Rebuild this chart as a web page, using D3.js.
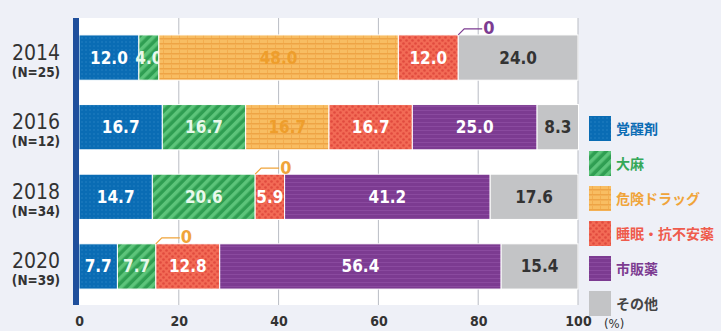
<!DOCTYPE html>
<html>
<head>
<meta charset="utf-8">
<script src="https://cdn.jsdelivr.net/npm/d3@7"></script>
<style>
  html, body { margin: 0; padding: 0; background: #eef0f7; }
  svg { display: block; }
</style>
</head>
<body>
<svg width="721" height="331"></svg>
<script>
// データ
const years = ["2014", "2016", "2018", "2020"];
const counts = ["(N=25)", "(N=12)", "(N=34)", "(N=39)"];
const seriesNames = ["覚醒剤", "大麻", "危険ドラッグ", "睡眠・抗不安薬", "市販薬", "その他"];
const stimulant = [12.0, 16.7, 14.7, 7.7];
const cannabis = [4.0, 16.7, 20.6, 7.7];
const dangerDrug = [48.0, 16.7, 0, 0];
const sleeping = [12.0, 16.7, 5.9, 12.8];
const otc = [0, 25.0, 41.2, 56.4];
const others = [24.0, 8.3, 17.6, 15.4];
const xTicks = [0, 20, 40, 60, 80, 100];

const colors = ["#0a6cb4", "#35a85a", "#f6b352", "#ef5b4c", "#7c3b91", "#c3c4c6"];
const textColors = ["#0a6cb4", "#35a85a", "#f0a43a", "#ef5b4c", "#7c3b91", "#444"];
const labelColors = ["#fff", "#e8f8ec", "#ee9e2c", "#fff", "#fff", "#333"];

const table = years.map((y, i) => ({
  year: y, n: counts[i],
  values: [stimulant[i], cannabis[i], dangerDrug[i], sleeping[i], otc[i], others[i]]
}));

const svg = d3.select("svg");
const margin = { left: 79, right: 143, top: 18, bottom: 26 };
const W = 721, H = 331;
const numFont = "'DejaVu Sans Condensed', 'Roboto', sans-serif";

const x = d3.scaleLinear().domain([0, 100]).range([margin.left, W - margin.right]);
const y = d3.scaleBand().domain(years).range([margin.top + 3, H - margin.bottom - 2]).paddingInner(0.35).paddingOuter(0.2);

// パターン
const defs = svg.append("defs");
const pBlue = defs.append("pattern").attr("id", "p0").attr("patternUnits", "userSpaceOnUse").attr("width", 4).attr("height", 4);
pBlue.append("rect").attr("width", 4).attr("height", 4).attr("fill", colors[0]);
pBlue.append("circle").attr("cx", 2).attr("cy", 2).attr("r", 0.7).attr("fill", "#2a84c6");

const pGreen = defs.append("pattern").attr("id", "p1").attr("patternUnits", "userSpaceOnUse").attr("width", 7).attr("height", 7).attr("patternTransform", "rotate(45)");
pGreen.append("rect").attr("width", 7).attr("height", 7).attr("fill", "#2f9e52");
pGreen.append("rect").attr("width", 3.5).attr("height", 7).attr("fill", "#5cc47a");

const pOrange = defs.append("pattern").attr("id", "p2").attr("patternUnits", "userSpaceOnUse").attr("width", 8).attr("height", 5);
pOrange.append("rect").attr("width", 8).attr("height", 5).attr("fill", "#f8bd62");
pOrange.append("rect").attr("y", 3).attr("width", 8).attr("height", 1.5).attr("fill", "#eea445");
pOrange.append("rect").attr("x", 3).attr("width", 1).attr("height", 3).attr("fill", "#f3ad4f");

const pRed = defs.append("pattern").attr("id", "p3").attr("patternUnits", "userSpaceOnUse").attr("width", 6).attr("height", 6);
pRed.append("rect").attr("width", 6).attr("height", 6).attr("fill", "#f26a55");
pRed.append("circle").attr("cx", 1.5).attr("cy", 1.5).attr("r", 1.3).attr("fill", "#e14a3e");
pRed.append("circle").attr("cx", 4.5).attr("cy", 4.5).attr("r", 1.3).attr("fill", "#e14a3e");

const pPurple = defs.append("pattern").attr("id", "p4").attr("patternUnits", "userSpaceOnUse").attr("width", 6).attr("height", 4);
pPurple.append("rect").attr("width", 6).attr("height", 4).attr("fill", "#7c3b91");
pPurple.append("rect").attr("y", 2).attr("width", 6).attr("height", 1).attr("fill", "#8a4a9f");

const fills = ["url(#p0)", "url(#p1)", "url(#p2)", "url(#p3)", "url(#p4)", colors[5]];

// 白い背景
svg.append("rect")
  .attr("x", x(0)).attr("y", margin.top)
  .attr("width", x(100) - x(0)).attr("height", H - margin.bottom - margin.top)
  .attr("fill", "#fff");

// グリッド
svg.append("g")
  .selectAll("line")
  .data(xTicks.slice(1))
  .join("line")
  .attr("x1", d => x(d)).attr("x2", d => x(d))
  .attr("y1", margin.top).attr("y2", H - margin.bottom)
  .attr("stroke", "#b9bcc4").attr("stroke-width", 1);

// バー
const rows = svg.append("g").selectAll("g")
  .data(table)
  .join("g");

rows.each(function(d) {
  const g = d3.select(this);
  let acc = 0;
  d.values.forEach((v, k) => {
    const x0 = acc;
    acc += v;
    if (v === 0) return;
    g.append("rect")
      .attr("x", x(x0)).attr("y", y(d.year))
      .attr("width", x(acc) - x(x0)).attr("height", y.bandwidth())
      .attr("fill", fills[k])
      .attr("stroke", "#fff").attr("stroke-width", 1);
    g.append("text")
      .attr("x", (x(x0) + x(acc)) / 2)
      .attr("y", y(d.year) + y.bandwidth() / 2 + 6)
      .attr("text-anchor", "middle")
      .attr("font-family", numFont)
      .attr("font-weight", "bold")
      .attr("font-size", 17)
      .attr("fill", labelColors[k])
      .text(v.toFixed(1));
  });
  // 0 の注記
  acc = 0;
  d.values.forEach((v, k) => {
    acc += v;
    if (v !== 0) return;
    const bx = x(acc), by = y(d.year);
    g.append("path")
      .attr("d", `M${bx},${by} L${bx + 6},${by - 6} L${bx + 24},${by - 6}`)
      .attr("fill", "none")
      .attr("stroke", textColors[k]).attr("stroke-width", 1.2);
    g.append("text")
      .attr("x", bx + 25).attr("y", by - 0.5)
      .attr("font-family", numFont)
      .attr("font-weight", "bold")
      .attr("font-size", 18)
      .attr("fill", textColors[k])
      .text("0");
  });
});

// 左の軸線
svg.append("rect")
  .attr("x", x(0) - 6).attr("y", margin.top)
  .attr("width", 6).attr("height", H - margin.bottom - margin.top)
  .attr("fill", "#1f4f9c");

// 年ラベル
const yl = svg.append("g").selectAll("g").data(table).join("g")
  .attr("transform", d => `translate(36,${y(d.year) + y.bandwidth() / 2})`);
yl.append("text")
  .attr("text-anchor", "middle").attr("y", 2)
  .attr("font-family", numFont)
  .attr("font-size", 21).attr("fill", "#333")
  .text(d => d.year);
yl.append("text")
  .attr("text-anchor", "middle").attr("y", 19)
  .attr("font-family", numFont)
  .attr("font-size", 13.5).attr("font-weight", "bold").attr("fill", "#333")
  .text(d => d.n);

// x 軸
const xAxis = svg.append("g")
  .attr("transform", `translate(0,${H - margin.bottom})`)
  .call(d3.axisBottom(x).tickValues(xTicks).tickSize(0).tickPadding(11));
xAxis.select(".domain").remove();
xAxis.selectAll("text")
  .attr("font-family", numFont)
  .attr("font-size", 14).attr("font-weight", "bold").attr("fill", "#333");
svg.append("text")
  .attr("x", 604).attr("y", 328)
  .attr("font-family", numFont)
  .attr("font-size", 13).attr("fill", "#333")
  .text("(%)");

// 凡例
const legend = svg.append("g").selectAll("g")
  .data(seriesNames)
  .join("g")
  .attr("transform", (d, i) => `translate(589,${116 + i * 35})`);
legend.append("rect")
  .attr("width", 22).attr("height", 25)
  .attr("fill", (d, i) => fills[i]);
legend.append("text")
  .attr("x", 27).attr("y", 18)
  .attr("font-family", "'Noto Sans CJK JP', sans-serif")
  .attr("font-weight", "bold").attr("font-size", 14)
  .attr("fill", (d, i) => textColors[i])
  .text(d => d);
</script>
</body>
</html>
